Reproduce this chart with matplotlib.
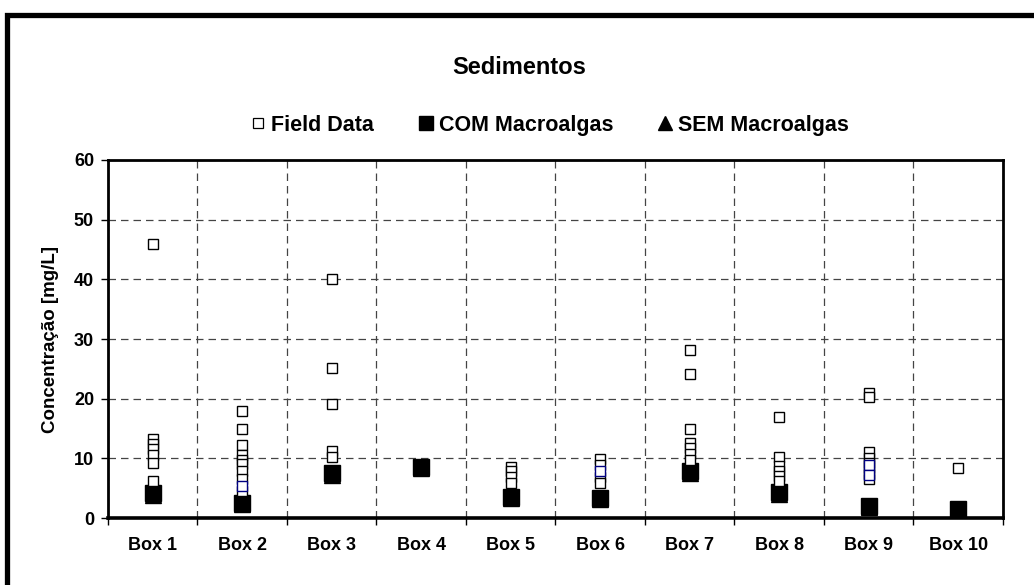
import numpy as np
import matplotlib.pyplot as plt
from matplotlib.lines import Line2D
from matplotlib.patches import Rectangle

plt.rcParams['font.family'] = ['Liberation Sans', 'DejaVu Sans']
plt.rcParams['font.weight'] = 'bold'

boxes = ['Box 1', 'Box 2', 'Box 3', 'Box 4', 'Box 5',
         'Box 6', 'Box 7', 'Box 8', 'Box 9', 'Box 10']

# field samples per box
field = [
    [46.0, 13.2, 12.4, 11.5, 10.6, 9.2, 6.2],
    [18.0, 15.0, 12.2, 10.6, 9.8, 9.0, 7.8, 6.6, 4.6],
    [40.1, 25.1, 19.1, 11.2, 10.2],
    [],
    [8.6, 7.8, 6.8, 5.8],
    [9.9, 8.9, 6.8, 5.8],
    [28.1, 24.1, 15.0, 12.6, 11.7, 10.8, 9.8],
    [17.0, 10.3, 8.7, 7.9, 7.0, 6.2],
    [21.0, 20.2, 11.1, 10.0, 9.2, 8.4, 7.4, 6.6],
    [8.3],
]
# a few samples from a second campaign (navy outline)
field_b = [[], [5.4], [], [], [], [7.8], [], [], [8.9, 7.2], []]

com_macro = [4.2, 2.6, 7.5, 8.6, 3.6, 3.4, 7.8, 4.3, 2.0, 1.5]
sem_macro = [3.9, 2.3, 7.2, 8.4, 3.4, 3.2, 7.5, 4.0, 1.8, 1.3]

fig = plt.figure(figsize=(10.34, 5.85), dpi=100)
ax = fig.add_axes([0.1044, 0.1145, 0.8656, 0.612])

xc = np.arange(len(boxes)) + 0.5

ax.plot(xc, sem_macro, linestyle='none', marker='^', markersize=11.5,
        color='black', zorder=3)
ax.plot(xc, com_macro, linestyle='none', marker='s', markersize=11.5,
        color='black', zorder=4)
for i, vals in enumerate(field):
    ax.plot([xc[i]] * len(vals), vals, linestyle='none', marker='s',
            markersize=7.5, markerfacecolor='white', markeredgecolor='black',
            markeredgewidth=1.0, zorder=5)
for i, vals in enumerate(field_b):
    ax.plot([xc[i]] * len(vals), vals, linestyle='none', marker='s',
            markersize=7.5, markerfacecolor='white', markeredgecolor='navy',
            markeredgewidth=1.0, zorder=5)

ax.set_xlim(0, 10)
ax.set_ylim(0, 60)
ax.set_yticks(np.arange(0, 61, 10))
ax.set_xticks(np.arange(0, 11))
ax.set_xticklabels([])
ax.set_xticks(xc, minor=True)
ax.set_xticklabels(boxes, minor=True)
ax.tick_params(axis='x', which='minor', length=0, pad=14, labelsize=13)
ax.tick_params(axis='x', which='major', length=5, width=1, direction='out')
ax.tick_params(axis='y', length=5, width=1, direction='out', labelsize=13, pad=5)

ax.grid(True, which='major', color='#444444', linestyle=(0, (6, 4)), linewidth=0.9)
ax.set_axisbelow(True)
for s in ax.spines.values():
    s.set_linewidth(2)
ax.spines['bottom'].set_linewidth(2.6)

ax.set_ylabel('Concentração [mg/L]', fontsize=13.5, fontweight='bold', labelpad=11)

fig.text(0.502, 0.884, 'Sedimentos', ha='center', va='center',
         fontsize=17, fontweight='bold')

handles = [
    Line2D([], [], linestyle='none', marker='s', markersize=7.5,
           markerfacecolor='white', markeredgecolor='black', markeredgewidth=0.9),
    Line2D([], [], linestyle='none', marker='s', markersize=9.5, color='black'),
    Line2D([], [], linestyle='none', marker='^', markersize=10.5, color='black'),
]
fig.legend(handles, ['Field Data', 'COM Macroalgas', 'SEM Macroalgas'],
           loc='center', bbox_to_anchor=(0.53, 0.786), ncol=3, frameon=False,
           handletextpad=0.1, columnspacing=1.9, handlelength=1.0,
           prop={'weight': 'bold', 'size': 15.5})

# outer chart frame (left and top edges visible)
fig.add_artist(Rectangle((0.0068, -0.1), 1.2, 1.074, transform=fig.transFigure,
                         fill=False, edgecolor='black', linewidth=3.8))

fig.savefig('out.png', dpi=100)
